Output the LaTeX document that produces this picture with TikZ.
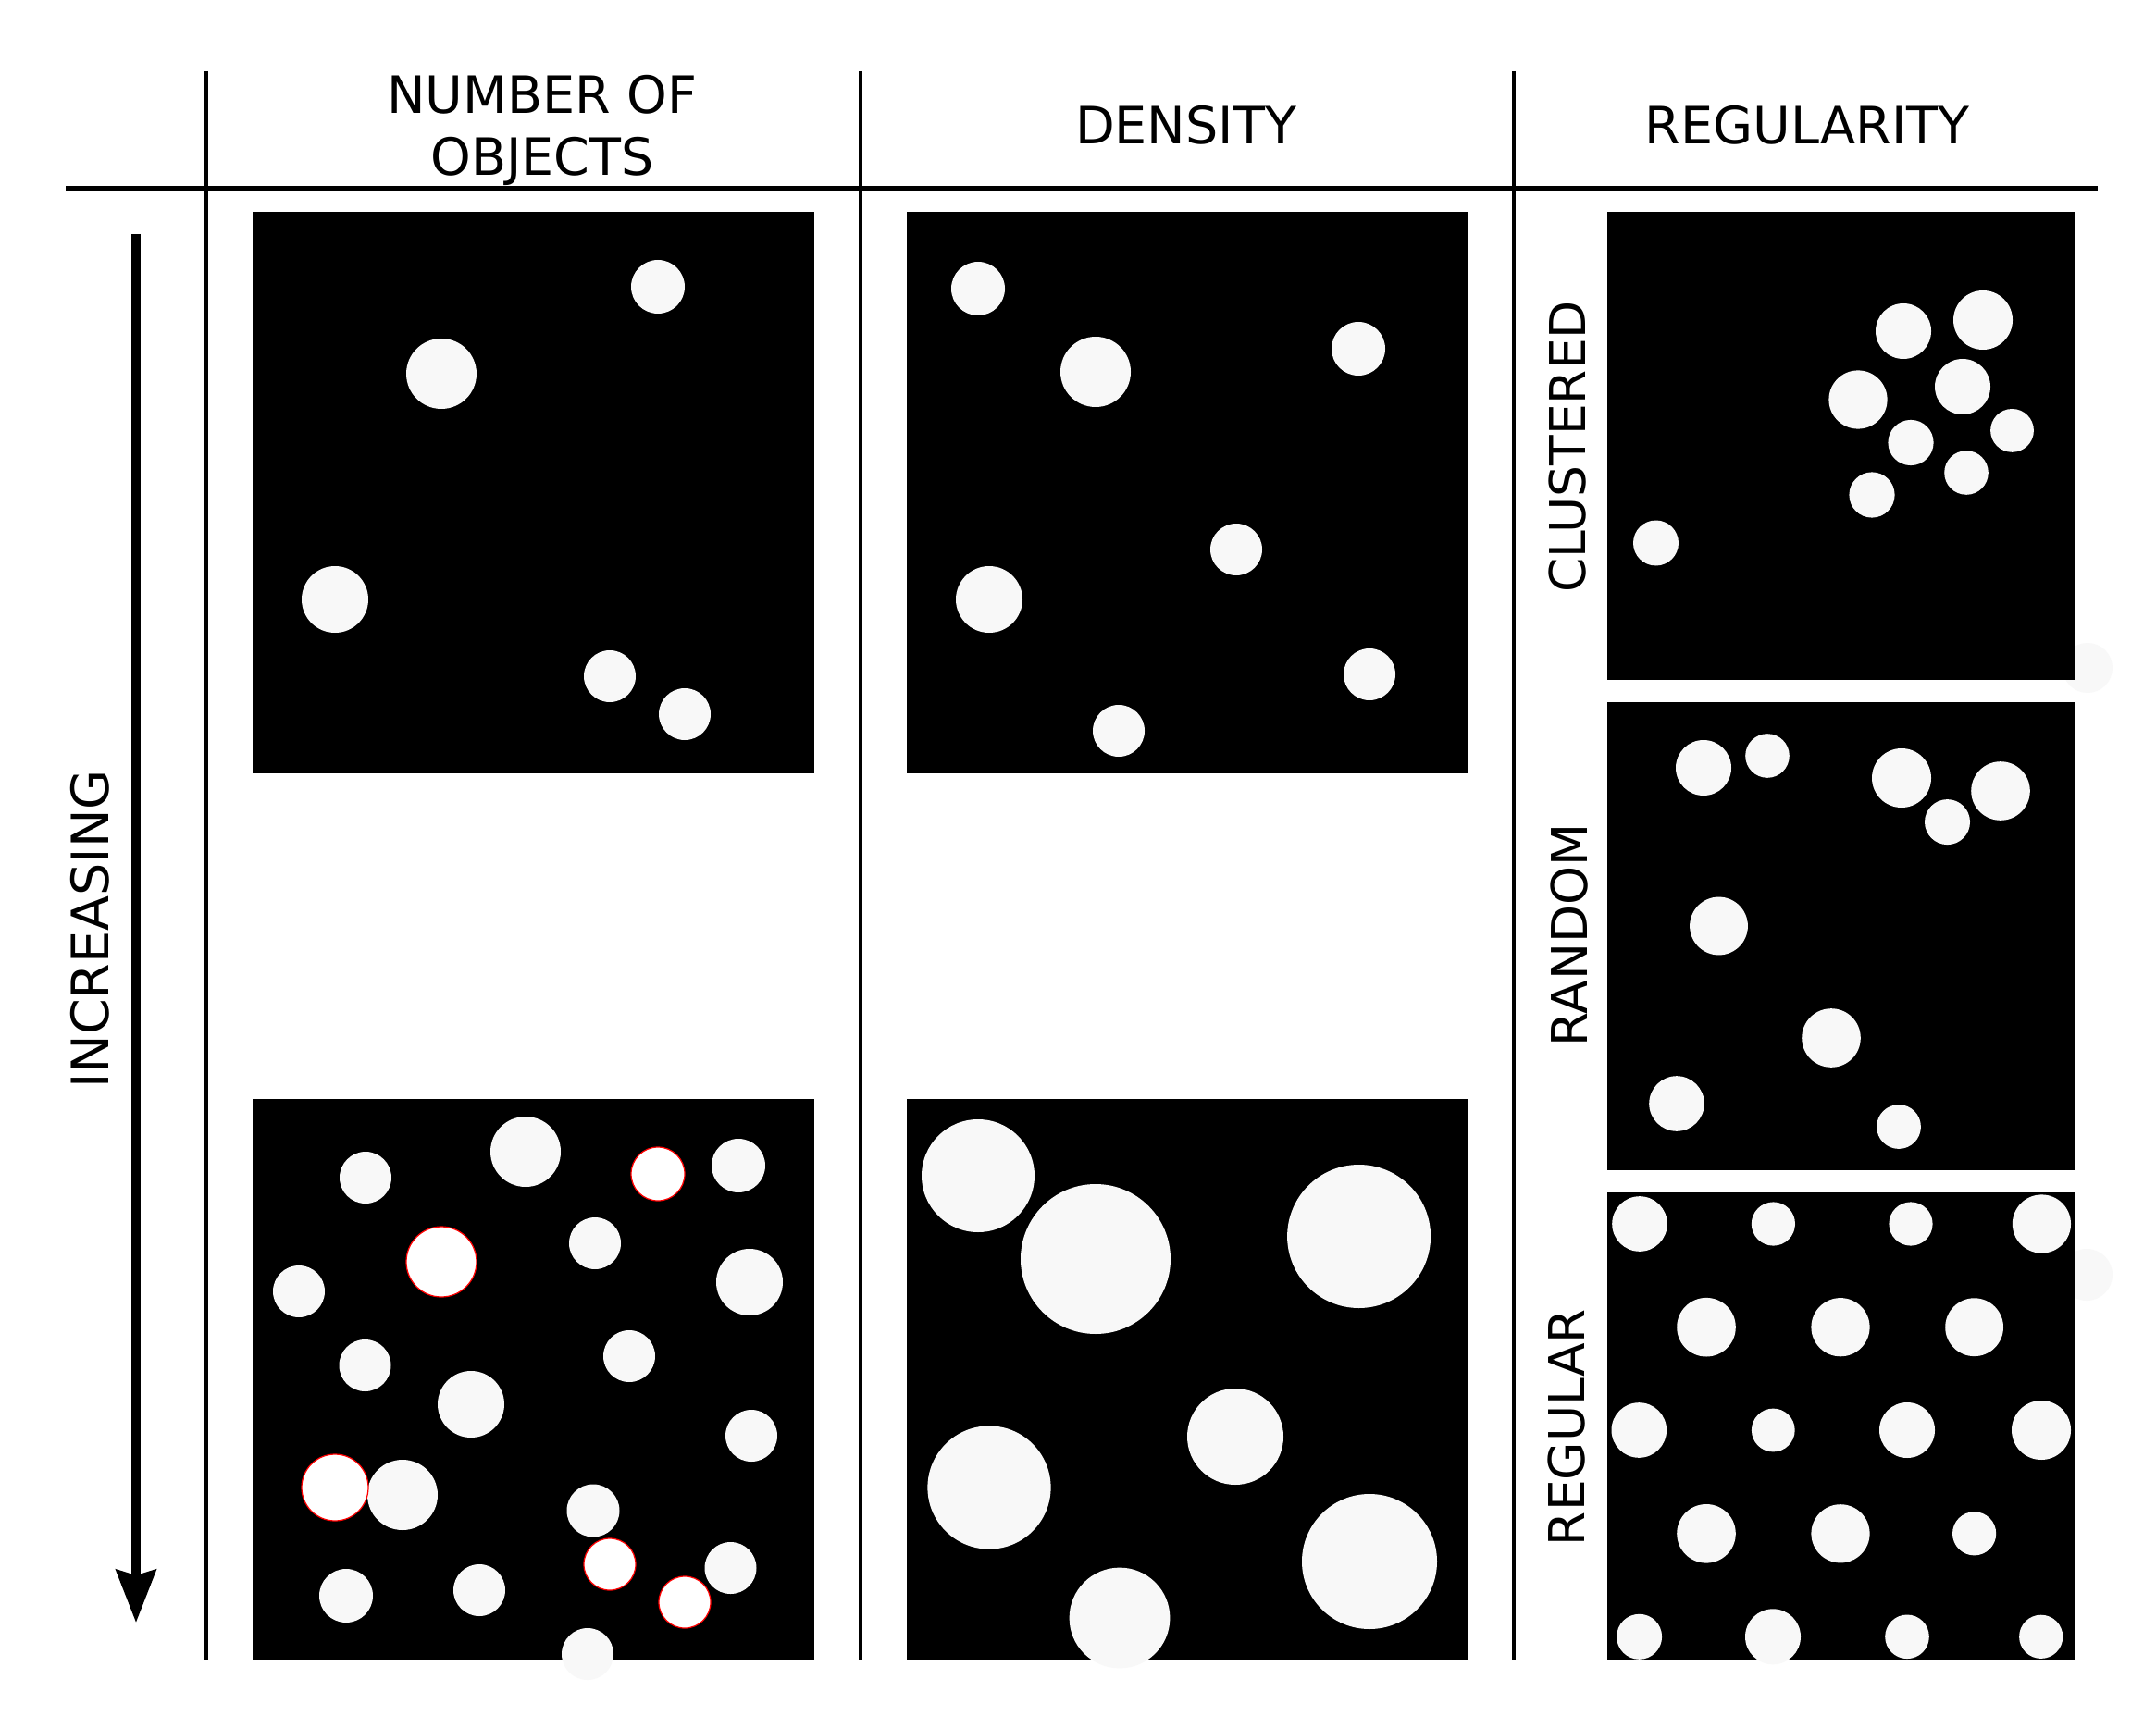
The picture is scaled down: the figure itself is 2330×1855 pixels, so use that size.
\documentclass[tikz,border=0pt]{standalone}
\usepackage{fontspec}
\setmainfont{DejaVu Sans}
\usetikzlibrary{arrows.meta}
\definecolor{dotgray}{RGB}{248,248,248}
\begin{document}
\begin{tikzpicture}[x=0.01cm,y=-0.01cm,
  panel/.style={fill=black},
  dot/.style={fill=dotgray},
  reddot/.style={fill=white,draw=red,line width=0.35pt},
  rule/.style={line width=1.15pt},
  hdr/.style={font=\fontsize{15.8pt}{19pt}\selectfont,inner sep=0pt,anchor=base},
  side/.style={font=\fontsize{15.2pt}{18pt}\selectfont,inner sep=0pt,rotate=90,anchor=center},
  sidebig/.style={font=\fontsize{15.8pt}{19pt}\selectfont,inner sep=0pt,rotate=90,anchor=center}]
\fill[white] (0,0) rectangle (2330,1855);
\useasboundingbox (0,0) rectangle (2330,1855);

% faint circles lying under the regularity panels
\foreach \x/\y/\r in {2256/722/27, 2255/1378/28}
  \fill[dot] (\x,\y) circle (\r);

% panels
\fill[panel] (273,229) rectangle (880,836);
\fill[panel] (980,229) rectangle (1587,836);
\fill[panel] (273,1188) rectangle (880,1795);
\fill[panel] (980,1188) rectangle (1587,1795);
\fill[panel] (1737,229) rectangle (2243,735);
\fill[panel] (1737,759) rectangle (2243,1265);
\fill[panel] (1737,1289) rectangle (2243,1795);

% number of objects: few
\foreach \x/\y/\r in {711/310/29, 477/404/38, 362/648/36, 659/731/28, 740/772/28}
  \fill[dot] (\x,\y) circle (\r);
% density: low
\foreach \x/\y/\r in {1057/312/29, 1184/402/38, 1468/377/29, 1336/594/28, 1069/648/36, 1480/729/28, 1209/790/28}
  \fill[dot] (\x,\y) circle (\r);
% number of objects: many
\foreach \x/\y/\r in {395/1273/28, 568/1245/38, 798/1260/29, 643/1344/28, 323/1396/28, 810/1386/36,
  394.5/1476/28, 680/1466/28, 509/1518/36, 812/1552/28, 435/1616/38, 641/1633/28.5,
  789.5/1695/28, 374/1725/29, 518/1719/28, 635/1788/28}
  \fill[dot] (\x,\y) circle (\r);
\foreach \x/\y/\r in {711/1269/29, 477/1364/38, 362/1608/36, 659/1691/28, 740/1732/28}
  \filldraw[reddot] (\x,\y) circle (\r);
% density: high
\foreach \x/\y/\r in {1057/1271/61, 1184/1361/81, 1468.6/1336.5/77.5, 1335/1553/52, 1069/1608/66.6, 1480/1688/73, 1210/1749/54.4}
  \fill[dot] (\x,\y) circle (\r);
% clustered
\foreach \x/\y/\r in {2057/358/30, 2143/346/32, 2008/432/31.6, 2121/418/30, 2065/478.5/24.6,
  2174.5/465.4/23.4, 2125/511/23.8, 2023/535/24.6, 1789.5/587/24.5}
  \fill[dot] (\x,\y) circle (\r);
% random
\foreach \x/\y/\r in {1841/830/30, 1910/817/23.8, 2055/841/32, 2162/855/31.8, 2104.5/888.6/24.5,
  1857.5/1001/31.4, 1979/1122/31.8, 1812/1193/29.8, 2052/1218/23.9}
  \fill[dot] (\x,\y) circle (\r);
% regular
\foreach \x/\y/\r in {1772/1323/29.8, 1916.4/1323/23.6, 2065/1323/23.6, 2206.4/1323/31.6,
  1844/1434.7/31.8, 1989/1434.7/31.6, 2133.6/1434.7/31.4,
  1771.3/1546/29.8, 1916.3/1546/23.4, 2061/1546/30, 2206/1546/32,
  1844/1657.8/31.8, 1989/1657.8/31.6, 2133.6/1657.8/23.6,
  1771.6/1769.3/24.5, 1916/1769.3/30, 2061/1769.3/23.8, 2205.7/1769.3/23.6}
  \fill[dot] (\x,\y) circle (\r);

% table rules
\draw[line width=1.7pt] (71,204) -- (2267,204);
\draw[rule] (223,77) -- (223,1794);
\draw[rule] (930,77) -- (930,1794);
\draw[rule] (1636,77) -- (1636,1794);

% increasing arrow
\coordinate (arT) at (147,253);
\coordinate (arB) at (147,1754);
\draw[line width=2.7pt,-{Stealth[length=16.2pt,width=12.2pt,inset=1.7pt]}] (arT) -- (arB);

% texts
\node[hdr] (hA1) at (586,122.5) {NUMBER OF};
\node[hdr] (hA2) at (586,189.5) {OBJECTS};
\node[hdr] (hB) at (1281.5,156) {DENSITY};
\node[hdr] (hC) at (1953,156) {REGULARITY};
\node[sidebig] (sInc) at (97.5,1004.5) {INCREASING};
\node[side] (sClu) at (1694,483) {CLUSTERED};
\node[side] (sRan) at (1696,1011) {RANDOM};
\node[side] (sReg) at (1693,1543) {REGULAR};
\end{tikzpicture}
\end{document}
